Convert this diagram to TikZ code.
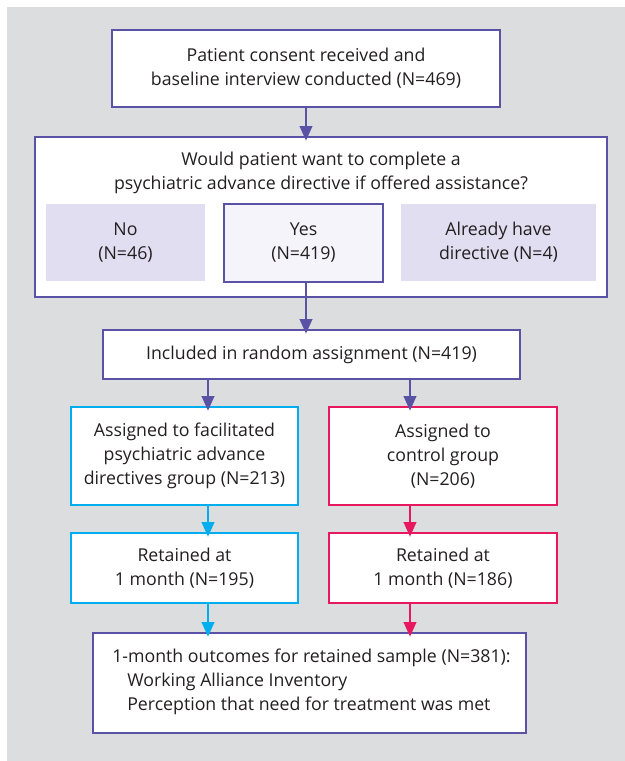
\documentclass[tikz,border=0pt]{standalone}
\usepackage{fontspec}
\setmainfont{Open Sans}
\usetikzlibrary{arrows.meta}
\definecolor{bggrey}{HTML}{DCDDDF}
\definecolor{purp}{HTML}{5A52A5}
\definecolor{cyanc}{HTML}{00AEEF}
\definecolor{magc}{HTML}{E8185E}
\definecolor{lav}{HTML}{E0DEF0}
\definecolor{paleyes}{HTML}{F5F4FA}
\definecolor{txt}{HTML}{231F20}
\tikzset{
  box/.style={draw=#1, line width=1.5pt, fill=white, inner sep=0pt, align=center,
    text=txt, font=\fontsize{13.3pt}{18pt}\selectfont},
  plain/.style={inner sep=0pt, align=center, text=txt, font=\fontsize{13.3pt}{18pt}\selectfont},
  arr/.style={draw=#1, line width=1.5pt, -{Triangle[length=11pt,width=9.5pt]}, shorten >=-3.5pt}
}
\begin{document}
\begin{tikzpicture}[x=0.75pt,y=-0.75pt]
\useasboundingbox (0,0) rectangle (625,761);
\fill[bggrey] (7,7) rectangle (625,761);

\node[box=purp, minimum width=291pt, minimum height=57.75pt] (t) at (306,68.5)
  {Patient consent received and\\baseline interview conducted (N=469)};

\node[box=purp, minimum width=429pt, minimum height=120pt] (q) at (321,217) {};
\node[plain] (qt) at (321,173) {Would patient want to complete a\\psychiatric advance directive if offered assistance?};
\node[plain, fill=lav, minimum width=119.25pt, minimum height=57.75pt] (no) at (125.5,242.5) {No\\(N=46)};
\node[box=purp, fill=paleyes, minimum width=119.25pt, minimum height=58.5pt] (yes) at (303.5,243) {Yes\\(N=419)};
\node[plain, fill=lav, minimum width=146.25pt, minimum height=57.75pt] (al) at (498.5,242.5) {Already have\\directive (N=4)};

\node[box=purp, minimum width=312.75pt, minimum height=36.75pt] (r) at (311.5,354.5)
  {Included in random assignment (N=419)};

\node[box=cyanc, minimum width=170.25pt, minimum height=73.5pt] (a1) at (184.5,456)
  {Assigned to facilitated\\psychiatric advance\\directives group (N=213)};
\node[box=magc, minimum width=171pt, minimum height=73.5pt] (a2) at (443,456)
  {Assigned to\\control group\\(N=206)};

\node[box=cyanc, minimum width=170.25pt, minimum height=52.5pt] (r1) at (184.5,568)
  {Retained at\\1 month (N=195)};
\node[box=magc, minimum width=171pt, minimum height=52.5pt] (r2) at (443,568)
  {Retained at\\1 month (N=186)};

\node[box=purp, minimum width=324.75pt, minimum height=75pt] (o) at (309.5,683) {};
\node[plain, align=left, anchor=west] (ot) at (112,682)
  {1-month outcomes for retained sample (N=381):\\
   \hspace*{11.25pt}Working Alliance Inventory\\
   \hspace*{11.25pt}Perception that need for treatment was met};

\coordinate (c1) at (208,0);
\coordinate (c2) at (410,0);
\coordinate (cm) at (306,0);

\draw[arr=purp] (cm |- t.south) -- (cm |- q.north);
\draw[arr=purp] (cm |- yes.south) -- (cm |- r.north);
\draw[arr=purp] (c1 |- r.south) -- (c1 |- a1.north);
\draw[arr=purp] (c2 |- r.south) -- (c2 |- a2.north);
\draw[arr=cyanc] (c1 |- a1.south) -- (c1 |- r1.north);
\draw[arr=magc] (c2 |- a2.south) -- (c2 |- r2.north);
\draw[arr=cyanc] (c1 |- r1.south) -- (c1 |- o.north);
\draw[arr=magc] (c2 |- r2.south) -- (c2 |- o.north);
\end{tikzpicture}
\end{document}
